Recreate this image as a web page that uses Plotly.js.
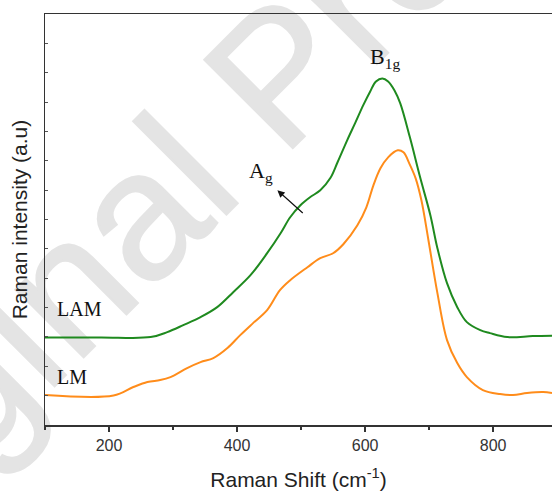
<!DOCTYPE html>
<html>
<head>
<meta charset="utf-8">
<script src="https://cdn.plot.ly/plotly-3.0.1.min.js"></script>
<style>
  html, body { margin: 0; padding: 0; background: #ffffff; }
  #wrap { position: relative; width: 552px; height: 491px; overflow: hidden; background: #ffffff; }
  #wm { position: absolute; left: 0; top: 0; z-index: 0; }
  #chart { position: absolute; left: 0; top: 0; width: 552px; height: 491px; z-index: 1; }
</style>
</head>
<body>
<div id="wrap">
  <svg id="wm" width="552" height="491" xmlns="http://www.w3.org/2000/svg">
    <text x="-197" y="638" transform="rotate(-45 -197 638)" font-family="Liberation Sans, Arial, sans-serif"
          font-size="182" fill="#e4e4e4" stroke="#e4e4e4" stroke-width="2">Original Proof</text>
  </svg>
  <div id="chart"></div>
</div>
<script>
// Raman shift (cm^-1) and intensity (a.u.)
const lamShift = [100, 187, 265, 291, 316, 343, 369, 394, 421, 447, 468, 483, 499, 514, 530, 546, 557, 572, 585, 597, 608, 617, 627, 636, 646, 655, 670, 686, 702, 713, 728, 744, 759, 780, 795, 822, 862, 892];
const lamIntensity = [2984, 2984, 2994, 3164, 3402, 3674, 4014, 4525, 5103, 5852, 6532, 7076, 7484, 7757, 7995, 8420, 8950, 9696, 10308, 10886, 11363, 11703, 11805, 11703, 11397, 10954, 9798, 8437, 7144, 6022, 4831, 4014, 3504, 3232, 3130, 2994, 3028, 3038];

const lmShift = [100, 207, 238, 260, 280, 296, 322, 343, 363, 385, 405, 425, 447, 467, 483, 510, 530, 550, 566, 588, 602, 613, 624, 636, 651, 660, 669, 679, 688, 699, 713, 728, 744, 759, 784, 811, 831, 853, 878, 892];
const lmIntensity = [1021, 1004, 1293, 1463, 1531, 1633, 1939, 2143, 2279, 2620, 3062, 3470, 3912, 4593, 4933, 5375, 5681, 5851, 6158, 6804, 7416, 8165, 8743, 9117, 9356, 9287, 8913, 8403, 7655, 6294, 4491, 2892, 2109, 1633, 1191, 1055, 1021, 1089, 1123, 1089];

const seriesNames = ["LAM", "LM"];
const xTickVals = [200, 400, 600, 800];
const xTickText = ["200", "400", "600", "800"];

const serif = "Liberation Serif, Times New Roman, serif";
const sans = "Liberation Sans, Arial, sans-serif";

const traces = [
  { x: lamShift, y: lamIntensity, name: seriesNames[0], type: "scatter", mode: "lines",
    line: { color: "#1f8a1f", width: 2, shape: "spline", smoothing: 1 } },
  { x: lmShift, y: lmIntensity, name: seriesNames[1], type: "scatter", mode: "lines",
    line: { color: "#ff8c1a", width: 2, shape: "spline", smoothing: 1 } }
];

const layout = {
  width: 552, height: 491,
  margin: { l: 44.5, r: 0, t: 13.5, b: 66 },
  paper_bgcolor: "rgba(0,0,0,0)",
  plot_bgcolor: "rgba(0,0,0,0)",
  showlegend: false,
  xaxis: {
    range: [100, 892],
    tickvals: xTickVals, ticktext: xTickText,
    ticks: "outside", ticklen: 5, tickwidth: 1.3, tickcolor: "#333",
    minor: { dtick: 100, tick0: 100, ticks: "outside", ticklen: 3, tickwidth: 1.2, tickcolor: "#333" },
    showline: true, linecolor: "#333", linewidth: 1.5, mirror: true,
    showgrid: false, zeroline: false,
    tickfont: { family: sans, size: 16, color: "#333" },
    title: { text: "Raman Shift (cm<sup>-1</sup>)", font: { family: sans, size: 21, color: "#222" }, standoff: 22 }
  },
  yaxis: {
    range: [0, 14000],
    dtick: 1000, tick0: 0,
    ticks: "inside", ticklen: 3, tickwidth: 1, tickcolor: "#555",
    showticklabels: false,
    showline: true, linecolor: "#333", linewidth: 1.5, mirror: false,
    showgrid: false, zeroline: false,
    title: { text: "Raman intensity (a.u)", font: { family: sans, size: 21, color: "#222" }, standoff: 10 }
  },
  annotations: [
    { x: 631, y: 12485, xref: "x", yref: "y", text: "B<sub>1g</sub>", showarrow: false,
      font: { family: serif, size: 22, color: "#111" } },
    { x: 438, y: 8607, xref: "x", yref: "y", text: "A<sub>g</sub>", showarrow: false,
      font: { family: serif, size: 22, color: "#111" } },
    { x: 463, y: 7995, xref: "x", yref: "y", ax: 505, ay: 7178, axref: "x", ayref: "y",
      text: "", showarrow: true, arrowhead: 2, arrowsize: 1.2, arrowwidth: 1.2, arrowcolor: "#111" },
    { x: 115, y: 3946, xref: "x", yref: "y", xanchor: "left", text: "LAM", showarrow: false,
      font: { family: serif, size: 20, color: "#111" } },
    { x: 115, y: 1633, xref: "x", yref: "y", xanchor: "left", text: "LM", showarrow: false,
      font: { family: serif, size: 20, color: "#111" } }
  ]
};

Plotly.newPlot("chart", traces, layout, { displayModeBar: false, staticPlot: true });
</script>
</body>
</html>
